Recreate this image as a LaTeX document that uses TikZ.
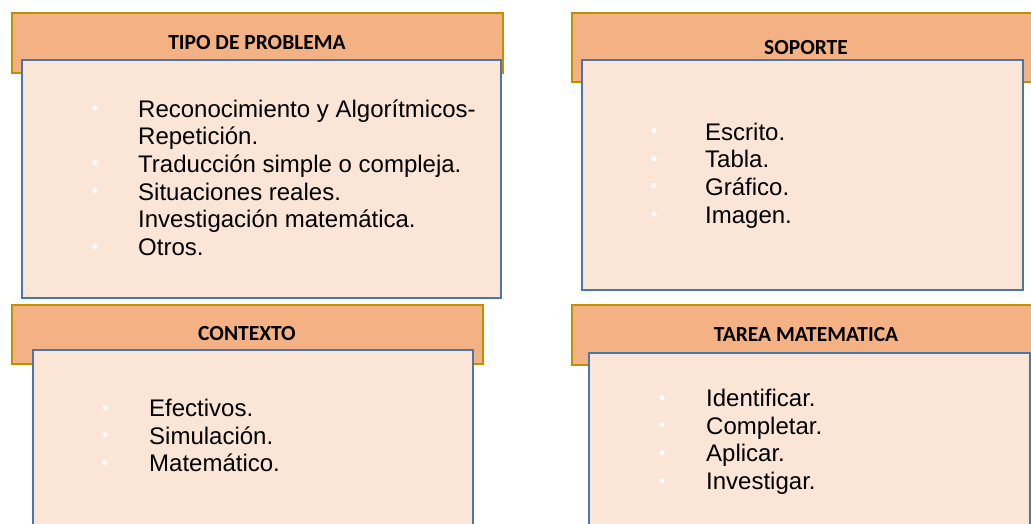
\documentclass[tikz,border=0pt]{standalone}
\usepackage{fontspec}
\setmainfont{Liberation Sans}
\newfontfamily\hdrfont{Carlito}
\definecolor{hdrfill}{HTML}{F4B183}
\definecolor{hdrline}{HTML}{BF9000}
\definecolor{boxfill}{HTML}{FBE5D6}
\definecolor{boxline}{HTML}{4A76A8}
\newcommand{\bul}[1]{\llap{\makebox[0pt][c]{\raisebox{2.5pt}{\textcolor{white}{\fontsize{19}{19}\selectfont •}}}\hspace{#1}}}
\newcommand{\listfont}{\fontsize{24}{27.7}\selectfont}
\tikzset{
  hdrbox/.style={draw=hdrline, fill=hdrfill, line width=2pt, anchor=north west, inner sep=0pt},
  hdrtext/.style={font=\hdrfont\bfseries\fontsize{21.5}{24}\selectfont, text=black, inner sep=0pt},
  contentbox/.style={draw=boxline, fill=boxfill, line width=2pt, anchor=north west, inner sep=0pt},
  listtext/.style={anchor=base west, inner sep=0pt, text=black}
}
\begin{document}
\begin{tikzpicture}[x=1pt,y=-1pt]
\useasboundingbox (0,0) rectangle (1031,523);
\clip (0,0) rectangle (1031,523);
% headers
\node[hdrbox, minimum width=491pt, minimum height=60pt] (h1) at (11,12) {};
\node[hdrbox, minimum width=470pt, minimum height=69pt] (h2) at (571,12) {};
\node[hdrbox, minimum width=471pt, minimum height=59pt] (h3) at (11,304) {};
\node[hdrbox, minimum width=470pt, minimum height=60pt] (h4) at (571,304) {};
\node[hdrtext] (t1) at (257,43) {TIPO DE PROBLEMA};
\node[hdrtext] (t2) at (806,48) {SOPORTE};
\node[hdrtext] (t3) at (247,334) {CONTEXTO};
\node[hdrtext] (t4) at (806,335) {TAREA MATEMATICA};
% content boxes
\node[contentbox, minimum width=479pt, minimum height=238pt] (c1) at (21,59) {};
\node[contentbox, minimum width=441pt, minimum height=230pt] (c2) at (581,59) {};
\node[contentbox, minimum width=440pt, minimum height=200pt] (c3) at (32,349) {};
\node[contentbox, minimum width=441pt, minimum height=200pt] (c4) at (588,352) {};
% lists
\node[listtext] (l1) at (138,117) {\listfont\begin{tabular}[t]{@{}l@{}}
\bul{43pt}Reconocimiento y Algorítmicos-\\
Repetición.\\
\bul{43pt}Traducción simple o compleja.\\
\bul{43pt}Situaciones reales.\\
Investigación matemática.\\
\bul{43pt}Otros.
\end{tabular}};
\node[listtext] (l2) at (705,140) {\listfont\begin{tabular}[t]{@{}l@{}}
\bul{51pt}Escrito.\\
\bul{51pt}Tabla.\\
\bul{51pt}Gráfico.\\
\bul{51pt}Imagen.
\end{tabular}};
\node[listtext] (l3) at (149,416.5) {\listfont\begin{tabular}[t]{@{}l@{}}
\bul{44pt}Efectivos.\\
\bul{44pt}Simulación.\\
\bul{44pt}Matemático.
\end{tabular}};
\node[listtext] (l4) at (706,406.5) {\listfont\begin{tabular}[t]{@{}l@{}}
\bul{44pt}Identificar.\\
\bul{44pt}Completar.\\
\bul{44pt}Aplicar.\\
\bul{44pt}Investigar.
\end{tabular}};
\end{tikzpicture}
\end{document}
